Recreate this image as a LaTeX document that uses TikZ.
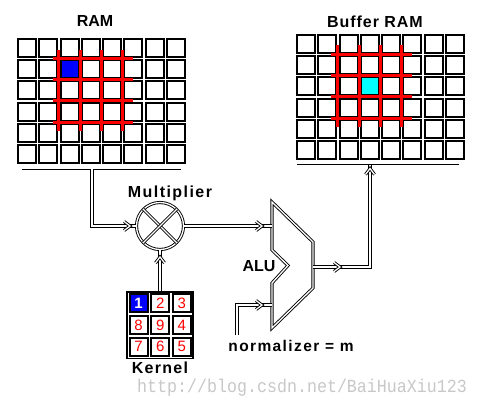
\documentclass[tikz,border=0pt]{standalone}
\usepackage{fontspec}
\usepackage{graphicx}
\setmainfont{Liberation Sans}
\newfontfamily\wmfont{Liberation Mono}
\usetikzlibrary{decorations.markings,calc}
\definecolor{gridred}{RGB}{255,0,0}
\definecolor{cellblue}{RGB}{0,0,255}
\definecolor{cellcyan}{RGB}{0,255,255}
\definecolor{wmgray}{RGB}{200,200,200}
\tikzset{
  cellbox/.style={draw=black, fill=white, line width=2pt},
  redline/.style={draw=gridred, line width=3pt},
  busline/.style={draw=black, line width=1pt},
  dbl/.style={draw=black, double=white, line width=0.9pt, double distance=1.3pt},
  chev/.style={postaction={decorate, decoration={markings, mark=at position #1 with {\draw[dbl, line join=miter] (-6pt,-4.5pt) -- (0pt,0pt) -- (-6pt,4.5pt);}}}},
  lbl/.style={anchor=base, inner sep=0pt, font=\bfseries\fontsize{16}{18}\selectfont},
  digit/.style={inner sep=0pt, text=gridred, font=\fontsize{15}{16}\selectfont},
}
\begin{document}
\begin{tikzpicture}[x=1pt,y=-1pt]
\useasboundingbox (0,0) rectangle (481,401);
\fill[white] (0,0) rectangle (481,401);
% watermark
\node[anchor=base west, inner sep=0pt, text=wmgray] (wm) at (137,392) {\scalebox{0.9}[1]{\wmfont\fontsize{18.5}{20}\selectfont http://blog.csdn.net/BaiHuaXiu123}};
% ---------- RAM grid ----------
\foreach \c in {0,...,7}{\foreach \r in {0,...,5}{
  \draw[cellbox] ({17+\c*21.25+1},{38+\r*21.2+1}) rectangle ++(18,18);
}}
\draw[cellbox, fill=cellblue] ({17+2*21.25+1},{38+1*21.2+1}) rectangle ++(18,18);
\foreach \k in {2,...,5}{
  \draw[redline] ({17+\k*21.25-0.65},49.6) -- ({17+\k*21.25-0.65},131.2);
}
\foreach \k in {1,...,4}{
  \draw[redline] (52.8,{38+\k*21.2-0.65}) -- (132.6,{38+\k*21.2-0.65});
}
\coordinate (rambusL) at (22,169);
\coordinate (rambusR) at (181,169);
\draw[busline] (rambusL) -- (rambusR);
\node[lbl] (ramlabel) at (95,27) {RAM};
% ---------- Buffer RAM grid ----------
\foreach \c in {0,...,7}{\foreach \r in {0,...,5}{
  \draw[cellbox] ({296+\c*21.25+1},{34+\r*21.2+1}) rectangle ++(18,18);
}}
\draw[cellbox, fill=cellcyan] ({296+3*21.25+1},{34+2*21.2+1}) rectangle ++(18,18);
\foreach \k in {2,...,5}{
  \draw[redline] ({296+\k*21.25-0.65},45.5) -- ({296+\k*21.25-0.65},127.2);
}
\foreach \k in {1,...,4}{
  \draw[redline] (330.8,{34+\k*21.2-0.65}) -- (411.6,{34+\k*21.2-0.65});
}
\coordinate (bufbusL) at (297,164.5);
\coordinate (bufbusR) at (459,164.5);
\draw[busline] (bufbusL) -- (bufbusR);
\node[lbl] (buflabel) at (375,28) {\addfontfeature{LetterSpace=6}Buffer RAM};
% ---------- Multiplier ----------
\node[circle, dbl, minimum size=47pt, inner sep=0pt] (mult) at (160,226) {};
\draw[dbl] (mult.north west) -- (mult.south east);
\draw[dbl] (mult.north east) -- (mult.south west);
\node[lbl] (multlabel) at (170,197.7) {\addfontfeature{LetterSpace=9}Multiplier};
% ---------- ALU ----------
\draw[dbl, line join=miter] (272,202) -- (313,242) -- (313,288) -- (272,328) -- (272,283) -- (288,265.5) -- (272,250) -- cycle;
\coordinate (aluin1) at (272,226);
\coordinate (aluin2) at (272,305);
\coordinate (aluout) at (313,267);
\node[lbl] (alulabel) at (259,271.7) {ALU};
% ---------- Kernel ----------
\node[draw, line width=1.5pt, fill=white, minimum width=66pt, minimum height=66.5pt, inner sep=0pt] (kernel) at (160,325) {};
\foreach \d [count=\i from 0] in {1,2,3,8,9,4,7,6,5}{
  \pgfmathtruncatemacro{\cc}{mod(\i,3)}
  \pgfmathtruncatemacro{\rr}{div(\i,3)}
  \draw[cellbox] ({128.5+\cc*21.7+1},{293.3+\rr*21.7+1}) rectangle ++(18,18);
  \node[digit] (k\d) at ({128.5+\cc*21.7+10},{293.3+\rr*21.7+10}) {\d};
}
\draw[cellbox, fill=cellblue] ({128.5+1},{293.3+1}) rectangle ++(18,18);
\node[inner sep=0pt, text=white, font=\bfseries\fontsize{15}{16}\selectfont] (k1b) at ({128.5+10},{293.3+10}) {1};
\node[lbl] (kernlabel) at (160,373.5) {\addfontfeature{LetterSpace=8}Kernel};
% ---------- normalizer ----------
\coordinate (normstart) at (237,335);
\node[anchor=base, inner sep=0pt, font=\bfseries\fontsize{15.5}{17}\selectfont] (normlabel) at (291,351.7) {\addfontfeature{LetterSpace=9}normalizer = m};
% ---------- connectors ----------
\coordinate (ramtap) at (92,169);
\coordinate (buftap) at (370,164.5);
\draw[dbl, chev=-6pt] (ramtap) |- (mult.west);
\draw[dbl, chev=-10pt] (mult.east) -- (aluin1);
\draw[dbl, chev=-7pt] (kernel.north) -- (mult.south);
\draw[dbl, chev=-10pt] (normstart) |- (aluin2);
\draw[dbl, chev=27pt, chev=-4pt] (aluout) -| (buftap);
\end{tikzpicture}
\end{document}
